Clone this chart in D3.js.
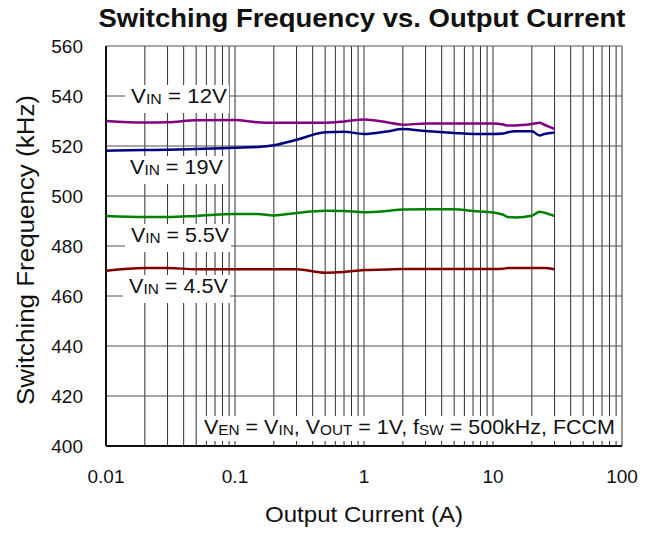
<!DOCTYPE html>
<html>
<head>
<meta charset="utf-8">
<script src="https://cdn.jsdelivr.net/npm/d3@7"></script>
<style>
  body { margin: 0; background: #fff; }
  text { font-family: "Liberation Sans", Arial, sans-serif; fill: #111; }
</style>
</head>
<body>
<div id="chart"></div>
<script>
// output current (A), shared by all four curves
var current = [0.01, 0.02, 0.03, 0.05, 0.1, 0.15, 0.2, 0.3, 0.5, 0.7, 1, 1.5, 2, 3, 5, 7, 10, 12, 13, 15, 20, 23, 25, 30];
// switching frequency (kHz)
var fsw12  = [530.0, 529.4, 529.5, 530.3, 530.4, 529.5, 529.3, 529.3, 529.3, 529.8, 530.6, 529.5, 528.5, 529.0, 529.0, 529.0, 529.0, 528.6, 528.2, 528.2, 528.8, 529.3, 528.5, 526.8];
var fsw19  = [518.1, 518.4, 518.5, 518.8, 519.3, 519.6, 520.3, 522.5, 525.5, 525.7, 524.8, 525.8, 526.8, 526.0, 525.2, 524.8, 524.8, 525.0, 525.5, 525.9, 525.9, 524.2, 524.8, 525.4];
var fsw55  = [492.0, 491.6, 491.6, 492.0, 492.8, 492.8, 492.2, 493.2, 494.1, 494.0, 493.5, 494.0, 494.6, 494.7, 494.7, 494.0, 493.4, 492.5, 491.6, 491.4, 492.1, 493.7, 493.3, 492.0];
var fsw45  = [470.1, 471.2, 471.2, 470.7, 470.7, 470.7, 470.7, 470.7, 469.3, 469.6, 470.4, 470.6, 470.8, 470.8, 470.8, 470.8, 470.8, 470.9, 471.2, 471.2, 471.2, 471.2, 471.2, 470.7];

var seriesNames = ["12V", "19V", "5.5V", "4.5V"];
var seriesData = [fsw12, fsw19, fsw55, fsw45];
var seriesColors = ["#800080", "#000080", "#008000", "#800000"];

var xTicks = [0.01, 0.1, 1, 10, 100];
var yTicks = [400, 420, 440, 460, 480, 500, 520, 540, 560];

var W = 657, H = 534;
var margin = {left: 106, right: 35, top: 46, bottom: 88};
var pw = W - margin.left - margin.right;
var ph = H - margin.top - margin.bottom;

var svg = d3.select("#chart").append("svg")
  .attr("width", W)
  .attr("height", H);

var x = d3.scaleLog().domain([0.01, 100]).range([0, pw]);
var y = d3.scaleLinear().domain([400, 560]).range([ph, 0]);

var g = svg.append("g")
  .attr("transform", "translate(" + margin.left + "," + margin.top + ")");

// grid (log minor lines in every decade)
var vgrid = [];
for (var e = -2; e < 2; e++) {
  for (var k = 1; k < 10; k++) vgrid.push(k * Math.pow(10, e));
}
vgrid.push(100);

g.append("g").selectAll("line.v")
  .data(vgrid)
  .enter().append("line")
  .attr("x1", function(d) { return x(d); })
  .attr("x2", function(d) { return x(d); })
  .attr("y1", 0).attr("y2", ph)
  .attr("stroke", "#303030")
  .attr("stroke-width", 1);

g.append("g").selectAll("line.h")
  .data(yTicks)
  .enter().append("line")
  .attr("x1", 0).attr("x2", pw)
  .attr("y1", function(d) { return y(d); })
  .attr("y2", function(d) { return y(d); })
  .attr("stroke", "#505050")
  .attr("stroke-width", 1);

// axes: left and bottom borders are heavier
g.append("line").attr("x1", 0).attr("x2", 0).attr("y1", 0).attr("y2", ph)
  .attr("stroke", "#111").attr("stroke-width", 2);
g.append("line").attr("x1", 0).attr("x2", pw).attr("y1", ph).attr("y2", ph)
  .attr("stroke", "#111").attr("stroke-width", 2);

// tick labels
g.append("g").selectAll("text")
  .data(yTicks)
  .enter().append("text")
  .attr("x", -23)
  .attr("y", function(d) { return y(d) + 7; })
  .attr("text-anchor", "end")
  .style("font-size", "19px")
  .text(function(d) { return d; });

g.append("g").selectAll("text")
  .data(xTicks)
  .enter().append("text")
  .attr("x", function(d) { return x(d); })
  .attr("y", ph + 37)
  .attr("text-anchor", "middle")
  .style("font-size", "19px")
  .text(function(d) { return d3.format("~g")(d); });

// labels with white box behind, covering the grid
function subLabel(parent, px, py, parts, len) {
  var grp = parent.append("g");
  var rect = grp.append("rect").attr("fill", "#fff");
  var t = grp.append("text")
    .attr("x", px).attr("y", py)
    .style("font-size", "21px");
  parts.forEach(function(p) {
    var s = t.append("tspan").text(p[0]);
    if (p[1]) s.style("font-size", "15px").attr("dy", 1);
    else if (p[2]) s.attr("dy", -1);
  });
  if (len) t.attr("textLength", len).attr("lengthAdjust", "spacingAndGlyphs");
  var bb = t.node().getBBox();
  rect.attr("x", bb.x - 6).attr("y", py - 18)
    .attr("width", bb.width + 8).attr("height", 28);
  return grp;
}

// curves
var line = d3.line()
  .x(function(d, i) { return x(current[i]); })
  .y(function(d) { return y(d); })
  .curve(d3.curveMonotoneX);

g.append("g").selectAll("path")
  .data(seriesData)
  .enter().append("path")
  .attr("d", line)
  .attr("fill", "none")
  .attr("stroke", function(d, i) { return seriesColors[i]; })
  .attr("stroke-width", 2.5);

var labelPos = [[131, 103, 96], [130, 174, 93], [131, 242, 98], [129, 293, 99]];
seriesNames.forEach(function(n, i) {
  subLabel(svg, labelPos[i][0], labelPos[i][1],
    [["V"], ["IN", true], [" = " + n, false, true]], labelPos[i][2]);
});

subLabel(svg, 204, 434, [
  ["V"], ["EN", true], [" = V", false, true], ["IN", true],
  [", V", false, true], ["OUT", true], [" = 1V, f", false, true],
  ["SW", true], [" = 500kHz, FCCM", false, true]
], 411).select("rect").attr("height", 25);

// title and axis titles
svg.append("text")
  .attr("x", 362)
  .attr("y", 27)
  .attr("text-anchor", "middle")
  .attr("textLength", 527)
  .attr("lengthAdjust", "spacingAndGlyphs")
  .style("font-size", "25px")
  .style("font-weight", "bold")
  .text("Switching Frequency vs. Output Current");

svg.append("text")
  .attr("x", 364)
  .attr("y", 522)
  .attr("text-anchor", "middle")
  .attr("textLength", 198)
  .attr("lengthAdjust", "spacingAndGlyphs")
  .style("font-size", "22px")
  .text("Output Current (A)");

svg.append("text")
  .attr("transform", "translate(34,250) rotate(-90)")
  .attr("text-anchor", "middle")
  .attr("textLength", 310)
  .attr("lengthAdjust", "spacingAndGlyphs")
  .style("font-size", "23px")
  .text("Switching Frequency (kHz)");
</script>
</body>
</html>
